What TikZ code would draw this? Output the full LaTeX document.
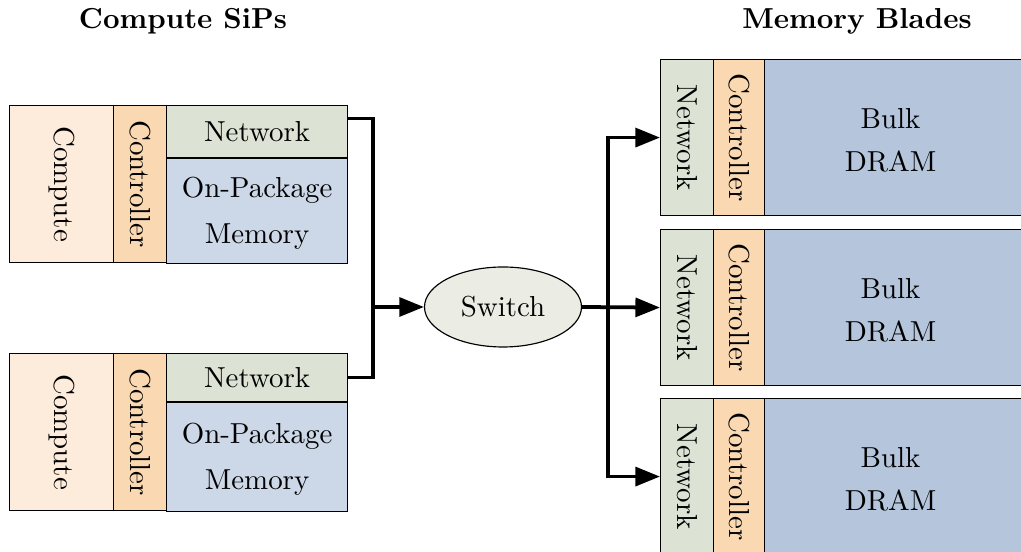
\documentclass[tikz,border=0pt]{standalone}
\usetikzlibrary{arrows.meta,shapes.geometric}
\definecolor{cComp}{RGB}{253,236,220}
\definecolor{cCtrl}{RGB}{250,217,178}
\definecolor{cNet}{RGB}{220,226,212}
\definecolor{cMem}{RGB}{204,216,232}
\definecolor{cBulk}{RGB}{180,197,220}
\definecolor{cSw}{RGB}{235,237,229}
\newcommand\ux{0.346pt}
\begin{document}
\begin{tikzpicture}[x=0.346pt,y=-0.346pt,
  blk/.style={draw,rectangle,inner sep=0pt,anchor=north west,align=center},
  conn/.style={line width=1.3pt},
  arr/.style={line width=1.3pt,-{Triangle[length=8.5pt,width=6.5pt]}},
  ttl/.style={font=\bfseries}]
\useasboundingbox (0,0) rectangle (1021,552);
\node[ttl] (t1) at (183,21) {Compute SiPs};
\node[ttl] (t2) at (857,21) {Memory Blades};
% compute SiPs
\foreach \i/\t/\nb in {1/105/52,2/353/48}{
  \node[blk,fill=cComp,minimum width=104*\ux,minimum height=157*\ux] (comp\i) at (9,\t) {};
  \node[rotate=-90] at (comp\i.center) {Compute};
  \node[blk,fill=cCtrl,minimum width=53*\ux,minimum height=157*\ux] (ctrl\i) at (113,\t) {};
  \node[rotate=-90] at (ctrl\i.center) {Controller};
  \node[blk,fill=cNet,minimum width=181*\ux,minimum height=\nb*\ux] (net\i) at (166,\t) {Network};
  \node[blk,fill=cMem,minimum width=181*\ux,minimum height=(157-\nb)*\ux,anchor=north west] (mem\i) at (net\i.south west) {};
  \node[align=center] at ([yshift=-2*\ux]mem\i.center) {On-Package\\[4pt]Memory};
}
% switch
\node[draw,ellipse,fill=cSw,minimum width=157*\ux,minimum height=80*\ux,inner sep=0pt] (sw) at (503,307) {Switch};
% memory blades
\foreach \i/\t in {1/59,2/229,3/398}{
  \node[blk,fill=cNet,minimum width=53*\ux,minimum height=156*\ux] (bnet\i) at (660,\t) {};
  \node[rotate=-90] at (bnet\i.center) {Network};
  \node[blk,fill=cCtrl,minimum width=51*\ux,minimum height=156*\ux] (bctrl\i) at (713,\t) {};
  \node[rotate=-90] at (bctrl\i.center) {Controller};
  \node[blk,fill=cBulk,minimum width=262*\ux,minimum height=156*\ux] (bulk\i) at (764,\t) {};
  \node[align=center] at ([xshift=-5*\ux,yshift=-3*\ux]bulk\i.center) {Bulk\\[3pt]DRAM};
}
% connectors
\coordinate (jl) at (373,307);
\coordinate (jr) at (608,307);
\draw[conn] ([yshift=13*\ux]net1.east) -| (jl);
\draw[conn] (net2.east) -| (jl);
\draw[arr] (jl) -- (sw.west);
\draw[arr] (sw.east) -- (bnet2.west);
\draw[arr] (jr) |- (bnet1.west);
\draw[arr] (jr) |- (bnet3.west);
\end{tikzpicture}
\end{document}
